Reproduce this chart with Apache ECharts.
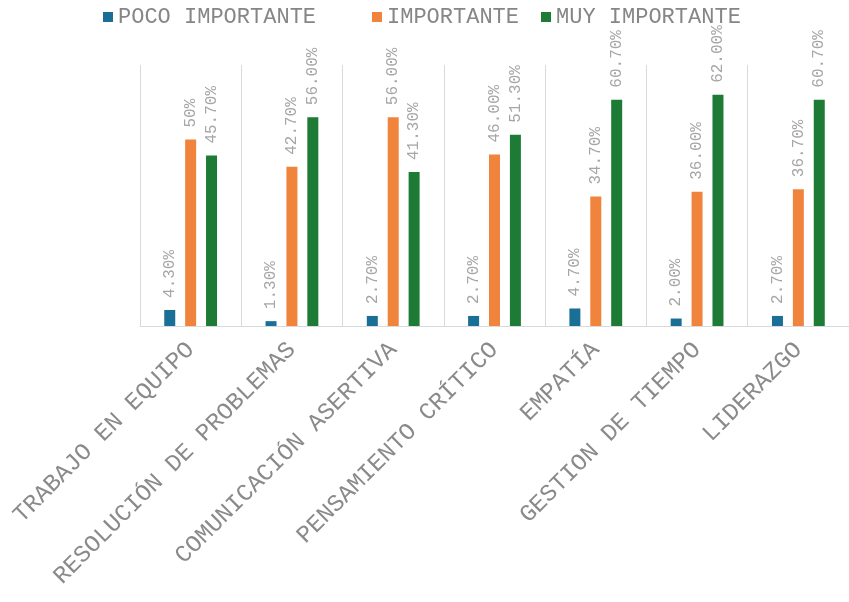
<!DOCTYPE html>
<html><head><meta charset="utf-8">
<script src="https://cdn.jsdelivr.net/npm/echarts@6/dist/echarts.min.js"></script>
<style>html,body{margin:0;padding:0;background:#fff}#c{width:849px;height:602px}</style>
</head><body><div id="c"></div>
<script>
const categories = ['TRABAJO EN EQUIPO','RESOLUCIÓN DE PROBLEMAS','COMUNICACIÓN ASERTIVA','PENSAMIENTO CRÍTICO','EMPATÍA','GESTION DE TIEMPO','LIDERAZGO'];
const seriesNames = ['POCO IMPORTANTE','IMPORTANTE','MUY IMPORTANTE'];
const pocoImportante = [4.3, 1.3, 2.7, 2.7, 4.7, 2.0, 2.7];
const importante = [50, 42.7, 56.0, 46.0, 34.7, 36.0, 36.7];
const muyImportante = [45.7, 56.0, 41.3, 51.3, 60.7, 62.0, 60.7];
const labelTextImportante = ['50%', null, null, null, null, null, null];
const colors = ['#1a6f96', '#f0843c', '#1d7b35'];
const FONT = "'Liberation Mono', 'Courier New', monospace";

function mkSeries(name, values, color, overrides) {
  return {
    name: name, type: 'bar', barWidth: 11, barGap: '90%',
    itemStyle: { color: color },
    data: values.map((v, i) => (overrides && overrides[i]) ? { value: v, label: { formatter: overrides[i] } } : v),
    label: {
      show: true, position: 'top', rotate: 90, align: 'left', verticalAlign: 'middle', distance: 12,
      color: '#a6a6a6', fontFamily: FONT, fontSize: 16,
      formatter: p => p.value.toFixed(2) + '%'
    }
  };
}
const legendBase = { top: 6, padding: 0, itemWidth: 10, itemHeight: 10, itemGap: 6, icon: 'rect',
  textStyle: { fontFamily: FONT, fontSize: 22, color: '#868686' } };
const chart = echarts.init(document.getElementById('c'));
chart.setOption({
  animation: false,
  legend: [
    Object.assign({}, legendBase, { left: 103, data: [seriesNames[0]] }),
    Object.assign({}, legendBase, { left: 372, data: [seriesNames[1]] }),
    Object.assign({}, legendBase, { left: 541, data: [seriesNames[2]] })
  ],
  grid: { left: 140, top: 65, bottom: 276, width: 717, containLabel: false },
  xAxis: {
    type: 'category', data: categories, boundaryGap: true,
    axisLine: { show: true, lineStyle: { color: '#d9d9d9', width: 1 } },
    axisTick: { show: false },
    splitLine: { show: true, lineStyle: { color: '#d9d9d9', width: 1 } },
    axisLabel: { interval: 0, rotate: 45, margin: 20, color: '#8a8a8a', fontFamily: FONT, fontSize: 24 }
  },
  yAxis: { type: 'value', min: 0, max: 70, show: false, splitLine: { show: false } },
  series: [
    mkSeries(seriesNames[0], pocoImportante, colors[0]),
    mkSeries(seriesNames[1], importante, colors[1], labelTextImportante),
    mkSeries(seriesNames[2], muyImportante, colors[2])
  ]
});
</script></body></html>
